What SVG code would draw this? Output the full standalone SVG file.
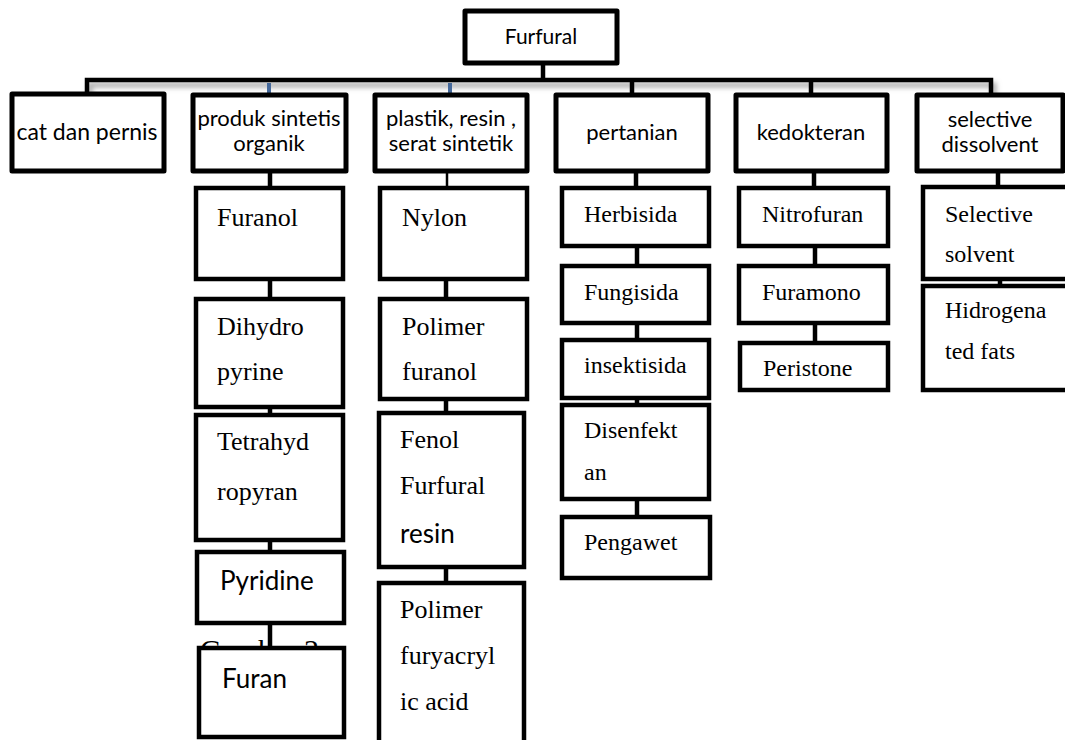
<svg xmlns="http://www.w3.org/2000/svg" width="1065" height="740" viewBox="0 0 1065 740">
<style>
.top{fill:#fff;stroke:#000;stroke-width:5;stroke-linejoin:round}
.sub{fill:#fff;stroke:#000;stroke-width:4.5}
.sans{font-family:Lato,"Liberation Sans",sans-serif;fill:#000}
.ts{font-size:22px}
.ser{font-family:"Liberation Serif",serif;fill:#000}
.s26{font-size:26px}
.s24{font-size:24px}
.c{fill:none;stroke:#000;stroke-width:4.5}
.thin{fill:none;stroke:#000;stroke-width:2.5}
.blue{fill:none;stroke:#44689a;stroke-width:4}
</style>
<defs>
<filter id="sh" x="-5%" y="-100%" width="110%" height="400%"><feGaussianBlur stdDeviation="2.5"/></filter>
</defs>
<rect width="1065" height="740" fill="#fff"/>
<text class="ser" x="200" y="660" font-size="30">Gambar 2</text>
<g id="connectors">
<path d="M87 95 V80 H991 V95" fill="none" stroke="#aaa" stroke-width="5" filter="url(#sh)" transform="translate(3,5)"/>
<path class="c" d="M543 63 V80"/>
<path class="c" d="M87 95 V80 H991 V95" stroke-width="5"/>
<path class="blue" d="M269 83 V95"/>
<path class="blue" d="M450 83 V95"/>
<path class="c" d="M632 80 V95"/>
<path class="c" d="M811 80 V95"/>
<path class="c" d="M270 171 V188"/>
<path class="c" d="M270 279 V299"/>
<path class="c" d="M270 407 V415"/>
<path class="c" d="M270 540 V552"/>
<path class="c" d="M270 623 V648"/>
<path class="thin" d="M447 171 V188"/>
<path class="c" d="M446 279 V299"/>
<path class="c" d="M446 399 V413"/>
<path class="c" d="M446 567 V583"/>
<path class="c" d="M636 171 V188"/>
<path class="c" d="M637 246 V266"/>
<path class="c" d="M637 323 V340"/>
<path class="c" d="M637 398 V405"/>
<path class="c" d="M637 499 V517"/>
<path class="c" d="M814 171 V188"/>
<path class="c" d="M815 246 V266"/>
<path class="c" d="M815 323 V343"/>
<path class="c" d="M998 171 V187"/>
<path class="c" d="M1000 279 V286"/>
</g>
<g id="furfural"><rect class="top" x="465" y="11" width="152" height="52"/><text class="sans" x="541" y="44" font-size="21" text-anchor="middle">Furfural</text></g>
<g id="cat"><rect class="top" x="12" y="94" width="152" height="77"/><text class="sans" x="87" y="140" font-size="23" text-anchor="middle">cat dan pernis</text></g>
<g id="produk"><rect class="top" x="193" y="95" width="153" height="76"/><text class="sans ts" x="269" y="126" text-anchor="middle">produk sintetis</text><text class="sans ts" x="269" y="151" text-anchor="middle">organik</text></g>
<g id="plastik"><rect class="top" x="375" y="95" width="152" height="76"/><text class="sans ts" x="451" y="126" text-anchor="middle">plastik, resin ,</text><text class="sans ts" x="451" y="151" text-anchor="middle">serat sintetik</text></g>
<g id="pertanian"><rect class="top" x="556" y="95" width="152" height="76"/><text class="sans ts" x="632" y="140" text-anchor="middle">pertanian</text></g>
<g id="kedokteran"><rect class="top" x="736" y="95" width="151" height="76"/><text class="sans ts" x="811" y="140" text-anchor="middle">kedokteran</text></g>
<g id="selective"><rect class="top" x="917" y="95" width="146" height="76"/><text class="sans ts" x="990" y="127" text-anchor="middle">selective</text><text class="sans ts" x="990" y="152" text-anchor="middle">dissolvent</text></g>
<g id="furanol"><rect class="sub" x="196" y="188" width="147" height="91"/><text class="ser s26" x="217" y="226">Furanol</text></g>
<g id="dihydro"><rect class="sub" x="196" y="299" width="147" height="108"/><text class="ser s26" x="217" y="335">Dihydro</text><text class="ser s26" x="217" y="380">pyrine</text></g>
<g id="tetrahyd"><rect class="sub" x="196" y="415" width="147" height="125"/><text class="ser s26" x="217" y="450">Tetrahyd</text><text class="ser s26" x="217" y="500">ropyran</text></g>
<g id="pyridine"><rect class="sub" x="197" y="552" width="147" height="71"/><text class="sans" x="220" y="590" font-size="26">Pyridine</text></g>
<g id="furan"><rect class="sub" x="199" y="648" width="145" height="89"/><text class="sans" x="222" y="688" font-size="26">Furan</text></g>
<g id="nylon"><rect class="sub" x="380" y="188" width="147" height="91"/><text class="ser s26" x="402" y="226">Nylon</text></g>
<g id="polimer-furanol"><rect class="sub" x="380" y="299" width="147" height="100"/><text class="ser s26" x="402" y="335">Polimer</text><text class="ser s26" x="402" y="380">furanol</text></g>
<g id="fenol"><rect class="sub" x="379" y="413" width="145" height="154"/><text class="ser s26" x="400" y="448">Fenol</text><text class="ser s26" x="400" y="494">Furfural</text><text class="sans" x="400" y="543" font-size="26">resin</text></g>
<g id="polimer-fury"><rect class="sub" x="379" y="583" width="145" height="180"/><text class="ser s26" x="400" y="618">Polimer</text><text class="ser s26" x="400" y="664">furyacryl</text><text class="ser s26" x="400" y="710">ic acid</text></g>
<g id="herbisida"><rect class="sub" x="562" y="188" width="147" height="58"/><text class="ser s24" x="584" y="222">Herbisida</text></g>
<g id="fungisida"><rect class="sub" x="562" y="266" width="147" height="57"/><text class="ser s24" x="584" y="300">Fungisida</text></g>
<g id="insektisida"><rect class="sub" x="562" y="340" width="147" height="58"/><text class="ser s24" x="584" y="373">insektisida</text></g>
<g id="disenfektan"><rect class="sub" x="562" y="405" width="147" height="94"/><text class="ser s24" x="584" y="438">Disenfekt</text><text class="ser s24" x="584" y="480">an</text></g>
<g id="pengawet"><rect class="sub" x="562" y="517" width="148" height="61"/><text class="ser s24" x="584" y="550">Pengawet</text></g>
<g id="nitrofuran"><rect class="sub" x="739" y="188" width="149" height="58"/><text class="ser s24" x="762" y="222">Nitrofuran</text></g>
<g id="furamono"><rect class="sub" x="739" y="266" width="149" height="57"/><text class="ser s24" x="762" y="300">Furamono</text></g>
<g id="peristone"><rect class="sub" x="740" y="343" width="148" height="47"/><text class="ser s24" x="763" y="376">Peristone</text></g>
<g id="selective-solvent"><rect class="sub" x="923" y="187" width="160" height="92"/><text class="ser s24" x="945" y="222">Selective</text><text class="ser s24" x="945" y="262">solvent</text></g>
<g id="hydrogenated"><rect class="sub" x="923" y="286" width="160" height="104"/><text class="ser s24" x="945" y="318">Hidrogena</text><text class="ser s24" x="945" y="359">ted fats</text></g>
</svg>
